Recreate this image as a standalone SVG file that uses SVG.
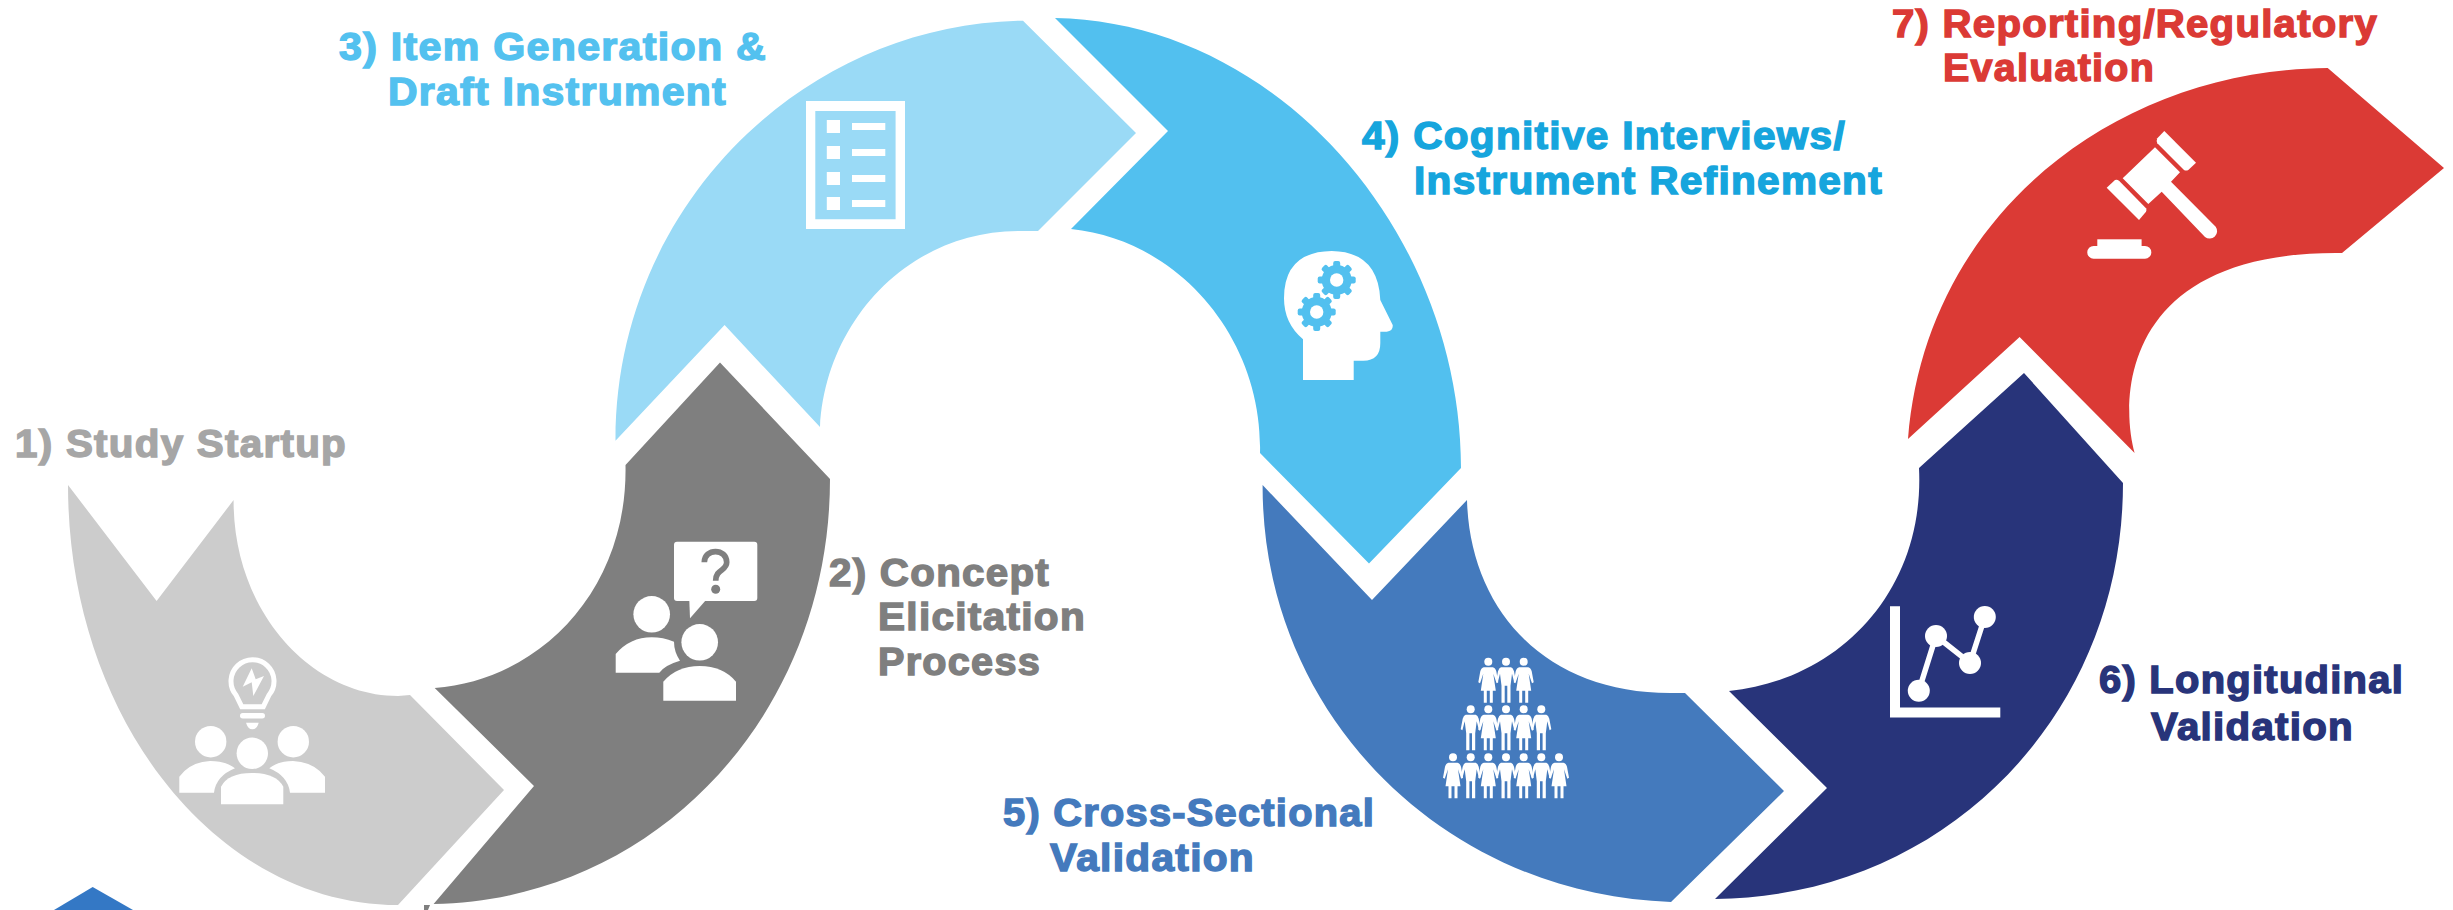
<svg xmlns="http://www.w3.org/2000/svg" xmlns:xlink="http://www.w3.org/1999/xlink" width="2453" height="910" viewBox="0 0 2453 910">
<style>
text{font-family:"Liberation Sans",Arial,sans-serif;font-weight:700;font-size:38px;stroke-width:1.4;letter-spacing:1.2px}
.w{fill:#fff}
.t1{fill:#a6a6a6;stroke:#a6a6a6}.t2{fill:#7f7f7f;stroke:#7f7f7f}.t3{fill:#53c1ef;stroke:#53c1ef}.t4{fill:#16a5dd;stroke:#16a5dd}.t5{fill:#447abd;stroke:#447abd}.t6{fill:#28347a;stroke:#28347a}.t7{fill:#db3a35;stroke:#db3a35}
</style>
<defs>
<g id="gear"><circle r="15"/><rect x="-3.5" y="-19" width="7" height="7" rx="2"/><rect x="-3.5" y="-19" width="7" height="7" rx="2" transform="rotate(45)"/><rect x="-3.5" y="-19" width="7" height="7" rx="2" transform="rotate(90)"/><rect x="-3.5" y="-19" width="7" height="7" rx="2" transform="rotate(135)"/><rect x="-3.5" y="-19" width="7" height="7" rx="2" transform="rotate(180)"/><rect x="-3.5" y="-19" width="7" height="7" rx="2" transform="rotate(225)"/><rect x="-3.5" y="-19" width="7" height="7" rx="2" transform="rotate(270)"/><rect x="-3.5" y="-19" width="7" height="7" rx="2" transform="rotate(315)"/></g>
<g id="man" fill="#fff"><circle r="4"/><path d="M-5 5.5H5Q7 6 8 9.5L10 20L8.3 21L6 12L4.5 24V41H1.3V24H-1.3V41H-4.5V24L-6 12L-8.3 21L-10 20L-8 9.5Q-7 6-5 5.5Z"/></g>
<g id="woman" fill="#fff"><circle r="4"/><path d="M-4.5 5.5H4.5Q7 6 8 9.5L10 20.5L8.3 21.5L5 12L7.5 29H4.5V41H1.5V29H-1.5V41H-4.5V29H-7.5L-5 12L-8.3 21.5L-10 20.5L-8 9.5Q-7 6-4.5 5.5Z"/></g>
</defs>
<rect width="2453" height="910" fill="#fff"/>
<g id="connectors"/>
<g id="corner-mark"><path d="M92.7 887L54 910H133Z" fill="#3478c5"/></g>

<g id="node-1">
<path d="M68 485L156.6 601L233.6 500C233 610 310 696 398 696L410 695L504 790L398 905C216 905 68 717 68 485Z" fill="#cccccc"/>
<path d="M241.7 706.7L236 695A21.5 21.5 0 1 1 269 695L263.3 706.7Z" fill="none" stroke="#fff" stroke-width="5"/>
<rect x="240" y="713" width="25" height="5.5" rx="2.7" class="w"/>
<path d="M246 722.7H258.7Q257 729.3 252.3 729.3Q248 729.3 246 722.7Z" class="w"/>
<path d="M251.7 668.3L242.7 686.7L251.7 682.3L253.3 696L264 676L255.7 679.3Z" class="w"/>
<circle cx="210.7" cy="741.7" r="15.7" class="w"/><circle cx="293.3" cy="741.7" r="15.7" class="w"/><circle cx="252.3" cy="753.3" r="15.7" class="w"/>
<path d="M179.3 792.7V776.7Q190 762 210 761Q226 761 235 768.3Q216 776 214 792.7Z" class="w"/>
<path d="M325 792.7V776.7Q314 762 293 761Q278 761 269.3 768.3Q288 776 290 792.7Z" class="w"/>
<path d="M221 804.3V786.7Q228 773 252 773Q276 773 283.3 786.7V804.3Z" class="w"/>
<text x="15" y="457" class="t1" textLength="332" lengthAdjust="spacingAndGlyphs">1) Study Startup</text>
</g>

<g id="node-2">
<path d="M434.7 688L534 786L433.6 904C655 900 830 715 830 479L720 362.5L625.5 465C628 590 540 680 434.7 688Z" fill="#7f7f7f"/>
<path d="M424 910V905H430L428 910Z" fill="#7f7f7f"/>
<rect x="674" y="541.7" width="83.3" height="59.3" rx="3" class="w"/>
<path d="M689.3 600L690 618.3L706 600Z" class="w"/>
<path d="M704.3 562.3C704.3 548 726.7 548 726.7 562.3C726.7 571 715.7 569 715.7 580.7" fill="none" stroke="#7f7f7f" stroke-width="5.7"/>
<circle cx="715.7" cy="589.3" r="4.5" fill="#7f7f7f"/>
<circle cx="651.7" cy="614.3" r="18.3" class="w"/><circle cx="699.7" cy="642.3" r="18.3" class="w"/>
<path d="M615.7 672.7V654Q630 637.3 651.7 637.3Q663 637.3 674 641.7Q674 651.7 680 660.7Q665 665 659.3 672.7Z" class="w"/>
<path d="M663.3 700.7V681.7Q676.7 666 699.7 666Q723 666 736 681.7V700.7Z" class="w"/>
<text x="829" y="586" class="t2" textLength="221" lengthAdjust="spacingAndGlyphs">2) Concept</text>
<text x="878" y="630" class="t2" textLength="208" lengthAdjust="spacingAndGlyphs">Elicitation</text>
<text x="878" y="675" class="t2" textLength="163" lengthAdjust="spacingAndGlyphs">Process</text>
</g>

<g id="node-3">
<path d="M615.5 440.7L724.6 325L820 427C825 325 905 231 1020 231L1038 231L1136 133L1023 20.7C800 24 615 210 615.5 440.7Z" fill="#9adaf6"/>
<path d="M806 101H905V229H806ZM815.3 111V219.3H895.6V111Z" class="w" fill-rule="evenodd"/>
<path d="M826.8 120H840V133H826.8ZM826.8 146H840V159H826.8ZM826.8 172H840V185H826.8ZM826.8 197H840V210H826.8ZM852 123H885.3V130H852ZM852 149H885.3V156H852ZM852 175H885.3V182H852ZM852 200H885.3V207H852Z" class="w"/>
<text x="339" y="60" class="t3" textLength="428" lengthAdjust="spacingAndGlyphs">3) Item Generation &amp;</text>
<text x="388" y="105" class="t3" textLength="339" lengthAdjust="spacingAndGlyphs">Draft Instrument</text>
</g>

<g id="node-4">
<path d="M1055 18L1168 131L1071 229C1180 240 1263 340 1260 453L1369 563.6L1461 468C1461 235 1280 22 1055 18Z" fill="#52c0ef"/>
<path d="M1303 380V339.3Q1284 323.3 1284 298.3Q1284 251.7 1331.7 251Q1378.3 251.7 1380.3 300L1392.7 325Q1393.3 330.7 1386.7 331.7H1380.3V343.3Q1380.3 360.7 1363.3 360.7H1353.7V380Z" class="w"/>
<use xlink:href="#gear" href="#gear" transform="translate(1336.7 280)" fill="#52c0ef"/>
<use xlink:href="#gear" href="#gear" transform="translate(1316.7 312)" fill="#52c0ef"/>
<circle cx="1336.7" cy="280" r="6.7" class="w"/><circle cx="1316.7" cy="312" r="6.7" class="w"/>
<text x="1362" y="149" class="t4" textLength="484" lengthAdjust="spacingAndGlyphs">4) Cognitive Interviews/</text>
<text x="1414" y="194" class="t4" textLength="469" lengthAdjust="spacingAndGlyphs">Instrument Refinement</text>
</g>

<g id="node-5">
<path d="M1262.6 485L1372 600L1467 500C1470 610 1545 693 1670 693L1685 693L1784 791L1671 902C1445 895 1262 715 1262.6 485Z" fill="#447abd"/>
<use xlink:href="#woman" href="#woman" x="1488.3" y="661.7"/><use xlink:href="#man" href="#man" x="1506" y="661.7"/><use xlink:href="#woman" href="#woman" x="1523.7" y="661.7"/>
<use xlink:href="#man" href="#man" x="1470.7" y="709.3"/><use xlink:href="#woman" href="#woman" x="1488.3" y="709.3"/><use xlink:href="#man" href="#man" x="1506" y="709.3"/><use xlink:href="#woman" href="#woman" x="1523.7" y="709.3"/><use xlink:href="#man" href="#man" x="1541.3" y="709.3"/>
<use xlink:href="#woman" href="#woman" x="1453" y="757.3"/><use xlink:href="#man" href="#man" x="1470.7" y="757.3"/><use xlink:href="#woman" href="#woman" x="1488.3" y="757.3"/><use xlink:href="#man" href="#man" x="1506" y="757.3"/><use xlink:href="#woman" href="#woman" x="1523.7" y="757.3"/><use xlink:href="#man" href="#man" x="1541.3" y="757.3"/><use xlink:href="#woman" href="#woman" x="1559" y="757.3"/>
<text x="1003" y="826" class="t5" textLength="372" lengthAdjust="spacingAndGlyphs">5) Cross-Sectional</text>
<text x="1050" y="871" class="t5" textLength="205" lengthAdjust="spacingAndGlyphs">Validation</text>
</g>

<g id="node-6">
<path d="M1729 691L1827 788L1715 899C1945 897 2123 715 2123 483L2024 373L1919 468C1925 590 1840 680 1729 691Z" fill="#28347a"/>
<path d="M1890 606.3H1900V707.6H2000.3V717.5H1890Z" class="w"/>
<path d="M1918.8 690.7L1936 636L1970 663L1984.8 617" fill="none" stroke="#fff" stroke-width="5.5"/>
<circle cx="1918.8" cy="690.7" r="11" class="w"/><circle cx="1936" cy="636" r="11" class="w"/><circle cx="1970" cy="663" r="11" class="w"/><circle cx="1984.8" cy="617" r="11" class="w"/>
<text x="2099" y="693" class="t6" textLength="305" lengthAdjust="spacingAndGlyphs">6) Longitudinal</text>
<text x="2151" y="740" class="t6" textLength="203" lengthAdjust="spacingAndGlyphs">Validation</text>
</g>

<g id="node-7">
<path d="M1908 439L2019.6 337L2134.6 453C2120 400 2120 250 2342 253L2444 168L2327.7 68C2110 70 1925 220 1908 439Z" fill="#db3a35"/>
<path d="M2155 147.3L2180 172.3L2171 181.7L2215.7 226.7A7.5 7.5 0 0 1 2205 237L2161.7 191.7L2148.3 204L2122.7 178.3Z" class="w"/>
<path d="M2164.3 131L2196 162.7L2188.3 170Q2186 171 2184 170L2157.3 143.3Q2156 141 2157.3 138.3Z" class="w"/>
<path d="M2106.7 187.7L2115 180Q2117 179 2119.3 181L2146 208.3Q2147 210 2146 211.7L2139 220Z" class="w"/>
<rect x="2097.3" y="239.3" width="44.3" height="8" class="w"/><rect x="2087.3" y="246" width="64" height="12.7" rx="6.3" class="w"/>
<text x="1892" y="37" class="t7" textLength="486" lengthAdjust="spacingAndGlyphs">7) Reporting/Regulatory</text>
<text x="1943" y="81" class="t7" textLength="212" lengthAdjust="spacingAndGlyphs">Evaluation</text>
</g>
</svg>
